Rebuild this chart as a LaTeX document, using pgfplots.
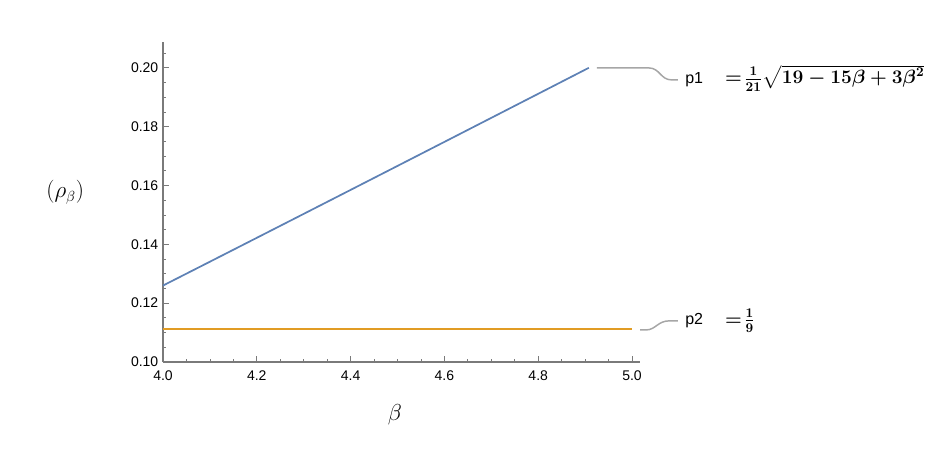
\documentclass[border=0pt]{standalone}
\usepackage{amsmath}
\usepackage{bm}
\usepackage[no-math]{fontspec}
\setmainfont{Liberation Sans}
\usepackage{pgfplots}
\pgfplotsset{compat=1.18}
\definecolor{mblue}{HTML}{5E81B5}
\definecolor{morange}{HTML}{E19C24}
\definecolor{maxis}{HTML}{7A7A7A}
\definecolor{mcall}{HTML}{A6A6A6}
\begin{document}
\begin{tikzpicture}
\path[use as bounding box] (-122.25pt,-70.5pt) rectangle (571.5pt,271.5pt);
\begin{axis}[
  scale only axis,
  width=357.75pt, height=240pt,
  xmin=4, xmax=5.017, ymin=0.1, ymax=0.2088,
  axis lines=left,
  axis line style={-, maxis, line width=0.8pt},
  tick align=inside,
  tick style={maxis, line width=0.6pt},
  major tick length=4.5pt,
  minor tick length=2.5pt,
  xtick={4.0,4.2,4.4,4.6,4.8,5.0},
  minor xtick={4.05,4.1,4.15,4.25,4.3,4.35,4.45,4.5,4.55,4.65,4.7,4.75,4.85,4.9,4.95},
  ytick={0.10,0.12,0.14,0.16,0.18,0.20},
  minor ytick={0.105,0.11,0.115,0.125,0.13,0.135,0.145,0.15,0.155,0.165,0.17,0.175,0.185,0.19,0.195,0.205},
  xticklabel style={/pgf/number format/fixed,/pgf/number format/fixed zerofill,/pgf/number format/precision=1, yshift=-3pt},
  yticklabel style={/pgf/number format/fixed,/pgf/number format/fixed zerofill,/pgf/number format/precision=2},
  /pgf/number format/assume math mode=true,
  ticklabel style={font=\fontsize{10.5}{12}\selectfont, text=black},
  scaled ticks=false,
  clip=false,
  xlabel={$\beta$},
  x label style={at={(axis description cs:0.486,-0.166)}, anchor=center, font=\fontsize{16}{18}\selectfont},
  ylabel={$(\rho_\beta)$},
  y label style={at={(axis description cs:-0.205,0.531)}, anchor=center, rotate=-90, font=\fontsize{16}{18}\selectfont},
]
\addplot[mblue, line width=1.3pt] coordinates {
(4.0,0.125988) (4.1,0.134097) (4.2,0.142221) (4.3,0.150359) (4.4,0.158508)
(4.5,0.166667) (4.6,0.174834) (4.7,0.183009) (4.8,0.191189) (4.9,0.199375) (4.908,0.200032)
};
\addplot[morange, line width=1.3pt] coordinates {(4.0,0.111111) (5.0,0.111111)};
% callouts
\draw[mcall, line width=1.1pt] (axis cs:4.925,0.2) -- (axis cs:5.035,0.2)
  .. controls (axis cs:5.06,0.2) and (axis cs:5.06,0.1959) .. (axis cs:5.085,0.1959) -- (axis cs:5.098,0.1959);
\draw[mcall, line width=1.1pt] (axis cs:5.017,0.1109) -- (axis cs:5.03,0.1109)
  .. controls (axis cs:5.05,0.1109) and (axis cs:5.055,0.1140) .. (axis cs:5.08,0.1140) -- (axis cs:5.098,0.1140);
\node[anchor=west, font=\fontsize{12}{14}\selectfont, inner sep=0pt] at (axis cs:5.113,0.1959) {p1};
\node[anchor=west, font=\fontsize{12}{14}\selectfont, inner sep=0pt] at (axis cs:5.113,0.1140) {p2};
\node[anchor=west, inner sep=0pt, font=\fontsize{13.7}{16}\selectfont] at (axis cs:5.198,0.1966) {$\bm{=\!\frac{1}{21}\sqrt{19-15\beta+3\beta^2}}$};
\node[anchor=west, inner sep=0pt, font=\fontsize{13.7}{16}\selectfont] at (axis cs:5.198,0.1140) {$\bm{=\!\frac{1}{9}}$};
\end{axis}
\end{tikzpicture}
\end{document}
